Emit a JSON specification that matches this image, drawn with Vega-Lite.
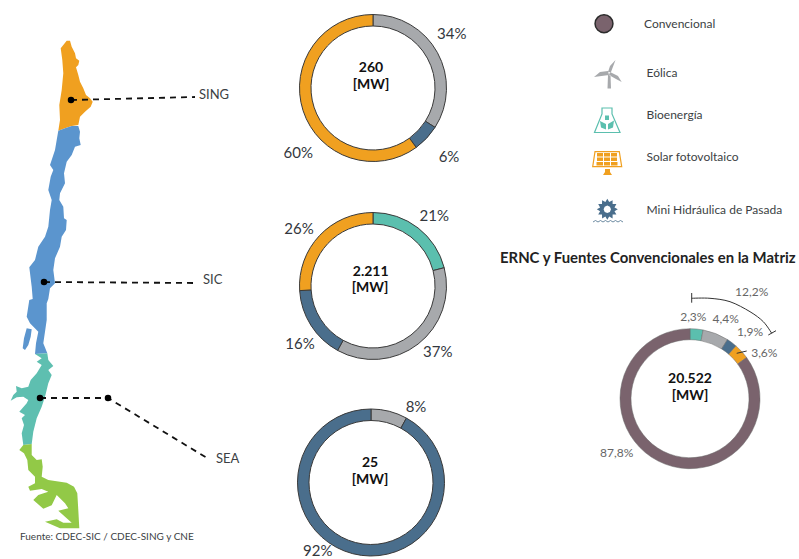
{
"$schema":"https://vega.github.io/schema/vega-lite/v6.json",
"width":799,"height":559,"padding":0,"autosize":{"type":"none"},
"background":"white",
"view":{"stroke":null},
"config":{"text":{"font":"Lato"}},
"datasets":{
"shapes":[
{"type":"Feature","properties":{"kind":"SING"},"geometry":{"type":"Polygon","coordinates":[[[66.7,40.7],[70,40.7],[71.7,46.7],[75,53.3],[76,58.3],[79.3,60.7],[78.3,65],[76,67.3],[78.3,75],[80,81.7],[83.3,88.3],[86,95],[90,98.3],[92.7,101.7],[90.7,106.7],[85,111.7],[80,116.7],[78.3,125],[71.7,126],[65,128.3],[58.3,130.7],[60,120],[59.3,105],[61.7,90],[63.3,73.3],[62.3,60],[60.7,48.3],[66.7,40.7]]]}},
{"type":"Feature","properties":{"kind":"SIC"},"geometry":{"type":"MultiPolygon","coordinates":[[[[58.3,130.7],[65,128.3],[71.7,126],[78.3,126],[80,131.7],[79.3,138.3],[80.7,145],[75,146.7],[71.7,155],[66.7,161.7],[64,173.3],[65,183.3],[60,193.3],[59.3,200],[63.3,206.7],[64,218.3],[66.7,220],[66,230],[61.7,236.7],[60,246.7],[55,258.3],[53.3,270],[55,283.3],[50,288.3],[48.3,299],[46.7,303.3],[46.7,320],[45,331.7],[43.3,343.3],[47.3,353.3],[35,354],[36,343.3],[38.3,331.7],[30,323.3],[26.7,316.7],[29.3,300],[32.7,299],[31.7,286.7],[29.3,267.3],[35,260],[38.3,246.7],[45,236.7],[48.3,226.7],[50,210],[51.7,200],[48.3,190],[50.7,176.7],[53.3,170],[50,165],[55,150],[56.7,140],[58.3,130.7]]],[[[26.7,328.3],[31.7,329.3],[30.7,336.7],[28.3,345],[25,350],[22.7,348.3],[24,338.3],[26.7,328.3]]]]}},
{"type":"Feature","properties":{"kind":"SEA"},"geometry":{"type":"Polygon","coordinates":[[[35,354],[47.3,353.3],[48.3,360],[53.3,366],[48.3,370],[51.7,375],[48.3,383.3],[45,396.7],[41.7,406.7],[36.7,418.3],[33.3,431.7],[31.7,444],[23.3,445],[21.7,433.3],[24,425],[21.7,418.3],[25,415],[19.3,411.7],[26.7,403.3],[28.3,400],[23.3,396.7],[16.7,397.3],[10.7,400.7],[13.3,395],[16.7,391.7],[16,386],[21.7,388.3],[28.3,386.7],[30.7,380],[36.7,373.3],[41.7,365],[36.7,361.7],[41.7,358.3],[35,354]]]}},
{"type":"Feature","properties":{"kind":"Sur"},"geometry":{"type":"Polygon","coordinates":[[[23.3,445],[31.7,444],[31.7,455],[36.7,460],[41.7,459.3],[42.7,466.7],[41.7,476.7],[48.3,480],[66.7,482.7],[74,486.7],[77.3,493.3],[78.3,510],[79.3,528.3],[60,528.3],[45,521.7],[56.7,519.3],[63.3,522.7],[71.7,522.7],[65,516.7],[58.3,510.7],[68.3,508.3],[65,503.3],[56.7,495],[51.7,505.3],[43.3,508.7],[33.3,500],[38.3,495],[48.3,491.7],[41.7,489],[30,490.7],[28.3,486.7],[35,483.3],[35,476.7],[28.3,470],[27.3,460],[24,453.3],[19.3,450],[23.3,445]]]}},
{"type":"Feature","properties":{"kind":"Eólica"},"geometry":{"type":"MultiPolygon","coordinates":[[[[608,72],[611,72],[615.5,60],[610,66],[608,72]]],[[[608,71],[609,75],[594,77],[600,72],[608,71]]],[[[610,72],[609,75],[616,79],[621.7,82],[618,76],[610,72]]],[[[608,75],[610.5,75],[611,88.5],[607.5,88.5],[608,75]]]]}},
{"type":"Feature","properties":{"kind":"Bioenergía"},"geometry":{"type":"MultiPolygon","coordinates":[[[[600,121],[606,124],[606,129.5],[601,127.5],[600,121]]],[[[614,120.5],[608,124],[608,129.5],[613,127.5],[614,120.5]]],[[[605,115.5],[609,115.5],[609,120],[605,120],[605,115.5]]]]}},
{"type":"Feature","properties":{"kind":"Solar fotovoltaico"},"geometry":{"type":"MultiPolygon","coordinates":[[[[597,153],[603,153],[603,156.5],[597,156.5],[597,153]]],[[[604,153],[610,153],[610,156.5],[604,156.5],[604,153]]],[[[611,153],[617,153],[617,156.5],[611,156.5],[611,153]]],[[[597,157.5],[603,157.5],[603,161],[597,161],[597,157.5]]],[[[604,157.5],[610,157.5],[610,161],[604,161],[604,157.5]]],[[[611,157.5],[617,157.5],[617,161],[611,161],[611,157.5]]],[[[596.5,162],[603,162],[603,165.5],[596.5,165.5],[596.5,162]]],[[[604,162],[610,162],[610,165.5],[604,165.5],[604,162]]],[[[611,162],[617.5,162],[617.5,165.5],[611,165.5],[611,162]]],[[[605,169],[610,169],[610,172],[612,175],[603,175],[605,172],[605,169]]]]}},
{"type":"Feature","properties":{"kind":"Mini Hidráulica de Pasada"},"geometry":{"type":"Polygon","coordinates":[[[617.8,209.3],[614.5,211.2],[616.4,214.6],[612.6,214.6],[612.6,218.4],[609.2,216.5],[607.3,219.8],[605.4,216.5],[602.1,218.4],[602,214.6],[598.2,214.6],[600.1,211.2],[596.8,209.3],[600.1,207.4],[598.2,204.1],[602,204],[602.1,200.2],[605.4,202.1],[607.3,198.8],[609.2,202.1],[612.6,200.2],[612.6,204],[616.4,204.1],[614.5,207.4],[617.8,209.3]],[[611,209.3],[609.9,206.7],[607.3,205.6],[604.7,206.7],[603.6,209.3],[604.7,211.9],[607.3,213],[609.9,211.9],[611,209.3]]]}}
],
"outlines":[
{"type":"Feature","properties":{"kind":"Bioenergía"},"geometry":{"type":"Polygon","coordinates":[[[602,108],[612,108],[612,114],[620,132.5],[594.5,132.5],[602,114],[602,108]]]}},
{"type":"Feature","properties":{"kind":"Solar fotovoltaico"},"geometry":{"type":"Polygon","coordinates":[[[595,151.7],[619.3,151.7],[621.7,166.7],[592.7,166.7],[595,151.7]]]}}
],
"donuts":[
{"sistema":"SING","cx":373,"cy":88,"fuente":"Eólica","desde":0,"hasta":34},
{"sistema":"SING","cx":373,"cy":88,"fuente":"Mini Hidráulica de Pasada","desde":34,"hasta":40},
{"sistema":"SING","cx":373,"cy":88,"fuente":"Solar fotovoltaico","desde":40,"hasta":100},
{"sistema":"SIC","cx":373,"cy":286,"fuente":"Bioenergía","desde":0,"hasta":21},
{"sistema":"SIC","cx":373,"cy":286,"fuente":"Eólica","desde":21,"hasta":58},
{"sistema":"SIC","cx":373,"cy":286,"fuente":"Mini Hidráulica de Pasada","desde":58,"hasta":74},
{"sistema":"SIC","cx":373,"cy":286,"fuente":"Solar fotovoltaico","desde":74,"hasta":100},
{"sistema":"SEA","cx":371,"cy":482.5,"fuente":"Eólica","desde":0,"hasta":8},
{"sistema":"SEA","cx":371,"cy":482.5,"fuente":"Mini Hidráulica de Pasada","desde":8,"hasta":100}
],
"matriz":[
{"cx":690,"cy":398.7,"fuente":"Bioenergía","desde":0,"hasta":3},
{"cx":690,"cy":398.7,"fuente":"Eólica","desde":3,"hasta":9},
{"cx":690,"cy":398.7,"fuente":"Mini Hidráulica de Pasada","desde":9,"hasta":11.4},
{"cx":690,"cy":398.7,"fuente":"Solar fotovoltaico","desde":11.4,"hasta":15},
{"cx":690,"cy":398.7,"fuente":"Convencional","desde":15,"hasta":100}
],
"lines":[
{"g":"sing","o":1,"px":71,"py":100},{"g":"sing","o":2,"px":195,"py":97},
{"g":"sic","o":1,"px":44,"py":282},{"g":"sic","o":2,"px":195,"py":283},
{"g":"sea","o":1,"px":40,"py":398},{"g":"sea","o":2,"px":108,"py":398},{"g":"sea","o":3,"px":207,"py":458}
],
"dots":[{"px":71,"py":100},{"px":44,"py":282},{"px":40,"py":398},{"px":108,"py":398}],
"thin":[
{"g":"t1","o":1,"px":691.7,"py":293},{"g":"t1","o":2,"px":691.7,"py":302.7},
{"g":"t2","o":1,"px":768.3,"py":335},{"g":"t2","o":2,"px":776,"py":330.7},
{"g":"l","o":1,"px":736.7,"py":353.3},{"g":"l","o":2,"px":746.7,"py":351}
],
"arcLine":[
{"o":1,"px":691.7,"py":298.3},{"o":2,"px":710,"py":298.3},{"o":3,"px":730,"py":301.7},{"o":4,"px":750,"py":311.7},{"o":5,"px":763.3,"py":321.7},{"o":6,"px":771.7,"py":333.3}
],
"waves":[
{"o":1,"px":593,"py":222},{"o":2,"px":595.5,"py":220.5},{"o":3,"px":598,"py":222},{"o":4,"px":600.5,"py":220.5},{"o":5,"px":603,"py":222},{"o":6,"px":605.5,"py":220.5},{"o":7,"px":608,"py":222},{"o":8,"px":610.5,"py":220.5},{"o":9,"px":613,"py":222},{"o":10,"px":615.5,"py":220.5},{"o":11,"px":618,"py":222},{"o":12,"px":620.5,"py":220.5},{"o":13,"px":623,"py":222}
],
"legendDot":[{"px":604,"py":23.7,"fuente":"Convencional"}],
"pct":[
{"px":451.7,"py":34,"t":"34%"},{"px":449,"py":157,"t":"6%"},{"px":298.3,"py":153,"t":"60%"},
{"px":434.3,"py":215.5,"t":"21%"},{"px":437.7,"py":351.5,"t":"37%"},{"px":300,"py":344,"t":"16%"},{"px":299,"py":228.5,"t":"26%"},
{"px":416,"py":406.5,"t":"8%"},{"px":317.7,"py":550.5,"t":"92%"}
],
"centers":[
{"px":371,"py":68,"t":"260"},{"px":371,"py":84.5,"t":"[MW]"},
{"px":370.7,"py":271.5,"t":"2.211"},{"px":370,"py":288,"t":"[MW]"},
{"px":370,"py":463,"t":"25"},{"px":370,"py":479.5,"t":"[MW]"},
{"px":690,"py":378.5,"t":"20.522"},{"px":690,"py":395.5,"t":"[MW]"}
],
"small":[
{"px":751.7,"py":292,"t":"12,2%"},{"px":693.3,"py":317,"t":"2,3%"},{"px":725.7,"py":319,"t":"4,4%"},{"px":750,"py":331.5,"t":"1,9%"},{"px":764.3,"py":353,"t":"3,6%"},{"px":616.7,"py":452.5,"t":"87,8%"}
],
"mapLabels":[
{"px":199,"py":95,"t":"SING"},{"px":203,"py":280,"t":"SIC"},{"px":216,"py":458.5,"t":"SEA"}
],
"labels":[
{"px":644,"py":24,"t":"Convencional"},{"px":646.5,"py":73,"t":"Eólica"},{"px":646.5,"py":115,"t":"Bioenergía"},{"px":646.5,"py":157,"t":"Solar fotovoltaico"},{"px":646.5,"py":210,"t":"Mini Hidráulica de Pasada"}
]
},
"layer":[
{"data":{"name":"shapes"},"mark":{"type":"geoshape","strokeWidth":0},
 "projection":{"type":"identity","scale":1,"translate":[0,0]},
 "encoding":{"color":{"field":"properties.kind","type":"nominal","legend":null,"scale":{"domain":["SING","SIC","SEA","Sur","Eólica","Bioenergía","Solar fotovoltaico","Mini Hidráulica de Pasada","Convencional"],"range":["#F0A020","#5B95CE","#5EBFB0","#92C947","#A7A9AC","#5BBFAE","#F0A020","#4A6E8C","#7A636D"]}}}},
{"data":{"name":"outlines"},"mark":{"type":"geoshape","filled":false,"strokeWidth":1.2},
 "projection":{"type":"identity","scale":1,"translate":[0,0]},
 "encoding":{"stroke":{"field":"properties.kind","type":"nominal","legend":null,"scale":{"domain":["Bioenergía","Solar fotovoltaico"],"range":["#5BBFAE","#F0A020"]}}}},
{"data":{"name":"donuts"},"mark":{"type":"arc","radius":73.5,"radius2":62,"stroke":"#3a3a3a","strokeWidth":1},
 "encoding":{
 "x":{"field":"cx","type":"quantitative","axis":null,"scale":{"domain":[0,799],"range":[0,799],"nice":false,"zero":false}},
 "y":{"field":"cy","type":"quantitative","axis":null,"scale":{"domain":[0,559],"range":[0,559],"nice":false,"zero":false}},
 "theta":{"field":"desde","type":"quantitative","scale":{"domain":[0,100],"range":[0,6.28318]}},
 "theta2":{"field":"hasta"},
 "color":{"field":"fuente","type":"nominal","legend":null}}},
{"data":{"name":"matriz"},"mark":{"type":"arc","radius":70,"radius2":59,"stroke":"#6a6a6a","strokeWidth":0.5},
 "encoding":{
 "x":{"field":"cx","type":"quantitative"},
 "y":{"field":"cy","type":"quantitative"},
 "theta":{"field":"desde","type":"quantitative"},
 "theta2":{"field":"hasta"},
 "color":{"field":"fuente","type":"nominal","legend":null}}},
{"data":{"name":"lines"},"mark":{"type":"line","color":"#111111","strokeWidth":1.8,"strokeDash":[6,5]},
 "encoding":{"x":{"field":"px","type":"quantitative"},"y":{"field":"py","type":"quantitative"},"detail":{"field":"g"},"order":{"field":"o"}}},
{"data":{"name":"dots"},"mark":{"type":"point","filled":true,"color":"#000000","size":42,"opacity":1},
 "encoding":{"x":{"field":"px","type":"quantitative"},"y":{"field":"py","type":"quantitative"}}},
{"data":{"name":"thin"},"mark":{"type":"line","color":"#333333","strokeWidth":1},
 "encoding":{"x":{"field":"px","type":"quantitative"},"y":{"field":"py","type":"quantitative"},"detail":{"field":"g"},"order":{"field":"o"}}},
{"data":{"name":"arcLine"},"mark":{"type":"line","color":"#333333","strokeWidth":1,"interpolate":"cardinal"},
 "encoding":{"x":{"field":"px","type":"quantitative"},"y":{"field":"py","type":"quantitative"},"order":{"field":"o"}}},
{"data":{"name":"waves"},"mark":{"type":"line","color":"#4A6E8C","strokeWidth":0.8},
 "encoding":{"x":{"field":"px","type":"quantitative"},"y":{"field":"py","type":"quantitative"},"order":{"field":"o"}}},
{"data":{"name":"legendDot"},"mark":{"type":"point","filled":true,"size":320,"stroke":"#2b2b2b","strokeWidth":1.5,"opacity":1,"fill":"#7A636D"},
 "encoding":{"x":{"field":"px","type":"quantitative"},"y":{"field":"py","type":"quantitative"}}},
{"data":{"name":"pct"},"mark":{"type":"text","fontSize":15,"color":"#33373d","align":"center","baseline":"middle"},
 "encoding":{"x":{"field":"px","type":"quantitative"},"y":{"field":"py","type":"quantitative"},"text":{"field":"t"}}},
{"data":{"name":"centers"},"mark":{"type":"text","fontSize":14,"fontWeight":"bold","color":"#111111","align":"center","baseline":"middle"},
 "encoding":{"x":{"field":"px","type":"quantitative"},"y":{"field":"py","type":"quantitative"},"text":{"field":"t"}}},
{"data":{"name":"small"},"mark":{"type":"text","fontSize":12,"color":"#666666","align":"center","baseline":"middle"},
 "encoding":{"x":{"field":"px","type":"quantitative"},"y":{"field":"py","type":"quantitative"},"text":{"field":"t"}}},
{"data":{"name":"mapLabels"},"mark":{"type":"text","fontSize":13,"color":"#3c3f44","align":"left","baseline":"middle"},
 "encoding":{"x":{"field":"px","type":"quantitative"},"y":{"field":"py","type":"quantitative"},"text":{"field":"t"}}},
{"data":{"name":"labels"},"mark":{"type":"text","fontSize":12,"color":"#3c3f44","align":"left","baseline":"middle"},
 "encoding":{"x":{"field":"px","type":"quantitative"},"y":{"field":"py","type":"quantitative"},"text":{"field":"t"}}},
{"data":{"values":[{"px":500,"py":259,"t":"ERNC y Fuentes Convencionales en la Matriz"}]},"mark":{"type":"text","fontSize":14.9,"fontWeight":"bold","color":"#222222","align":"left","baseline":"middle"},
 "encoding":{"x":{"field":"px","type":"quantitative"},"y":{"field":"py","type":"quantitative"},"text":{"field":"t"}}},
{"data":{"values":[{"px":20,"py":537,"t":"Fuente: CDEC-SIC / CDEC-SING y CNE"}]},"mark":{"type":"text","fontSize":10,"color":"#3c3f44","align":"left","baseline":"middle"},
 "encoding":{"x":{"field":"px","type":"quantitative"},"y":{"field":"py","type":"quantitative"},"text":{"field":"t"}}}
]
}
